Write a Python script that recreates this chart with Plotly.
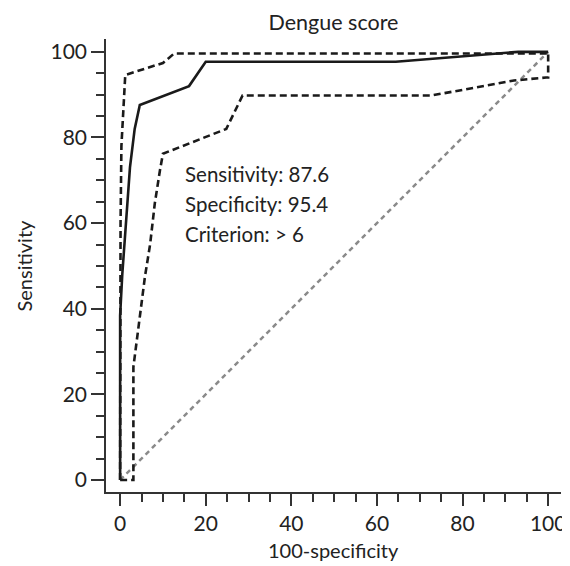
import plotly.graph_objects as go

# ROC curve (100-specificity, sensitivity)
roc_x = [0, 0, 0.5, 1.1, 2.3, 3.4, 4.6, 16.1, 20.0, 64.4, 93.0, 100]
roc_y = [0, 38.5, 48, 57, 73, 82, 87.6, 92.0, 97.7, 97.7, 100, 100]

# Upper confidence bound
upper_x = [0, 0, 0.1, 0.3, 1.2, 10.0, 12.6, 100, 100]
upper_y = [0, 40, 60, 78, 94.6, 97.4, 99.6, 99.6, 100]

# Lower confidence bound
lower_x = [0, 3.1, 3.1, 4.6, 5.8, 7.0, 8.1, 9.3, 10.0, 24.8, 28.6, 72.7, 92.0, 99.5, 100, 100]
lower_y = [0, 0, 26.4, 38.2, 47.5, 55.0, 64.6, 72.3, 76.2, 82.0, 89.8, 89.8, 93.3, 94.0, 94.0, 100]

# Reference diagonal
diag_x = [0, 100]
diag_y = [0, 100]

stats_text = ["Sensitivity: 87.6", "Specificity: 95.4", "Criterion: > 6"]
x_ticks = [0, 20, 40, 60, 80, 100]
y_ticks = [0, 20, 40, 60, 80, 100]

FONT = "Lato"
TXT = "#222"

fig = go.Figure()
fig.add_trace(go.Scatter(x=diag_x, y=diag_y, mode="lines",
                         line=dict(color="#8a8a8a", width=2.5, dash="5px,4px"),
                         hoverinfo="skip"))
fig.add_trace(go.Scatter(x=upper_x, y=upper_y, mode="lines",
                         line=dict(color="#1a1a1a", width=2.6, dash="7px,4px")))
fig.add_trace(go.Scatter(x=lower_x, y=lower_y, mode="lines",
                         line=dict(color="#1a1a1a", width=2.6, dash="7px,4px")))
fig.add_trace(go.Scatter(x=roc_x, y=roc_y, mode="lines",
                         line=dict(color="#1a1a1a", width=2.6)))

for i, t in enumerate(stats_text):
    fig.add_annotation(x=14.7, y=71.4 - 7.0 * i, xref="x", yref="y", text=t,
                       showarrow=False, xanchor="left", yanchor="middle",
                       font=dict(family=FONT, size=20.5, color=TXT))

# axis titles as annotations for exact placement
fig.add_annotation(x=0.5, y=0, xref="paper", yref="paper", text="100-specificity",
                   showarrow=False, xanchor="center", yanchor="middle", yshift=-58,
                   font=dict(family=FONT, size=20, color=TXT))
fig.add_annotation(x=0, y=0.5, xref="paper", yref="paper", text="Sensitivity",
                   showarrow=False, xanchor="center", yanchor="middle", xshift=-83,
                   textangle=-90, font=dict(family=FONT, size=20, color=TXT))

# page body has an 8px margin, so the figure is sized/offset to compensate
fig.update_layout(
    width=562, height=558,
    margin=dict(l=98, r=9, t=31, b=74),
    paper_bgcolor="white", plot_bgcolor="white",
    showlegend=False,
    title=dict(text="Dengue score", x=0.5, xanchor="center", xref="paper",
               y=1 - 14.5 / 558, yanchor="middle", yref="container",
               font=dict(family=FONT, size=21.5, color=TXT)),
    font=dict(family=FONT, size=21, color=TXT),
)
fig.update_xaxes(range=[-3.3, 103], tickvals=x_ticks, ticks="outside", ticklen=12,
                 tickwidth=1.5, tickcolor="#333", showline=True, linecolor="#333",
                 linewidth=1.5, showgrid=False, zeroline=False, automargin=False,
                 minor=dict(dtick=5, tick0=0, ticks="outside", ticklen=8, tickwidth=1.5,
                            tickcolor="#333", showgrid=False),
                 tickfont=dict(family=FONT, size=21, color=TXT))
fig.update_yaxes(range=[-2.8, 103], tickvals=y_ticks, ticks="outside", ticklen=13,
                 tickwidth=1.5, tickcolor="#333", showline=True, linecolor="#333",
                 linewidth=1.5, showgrid=False, zeroline=False, automargin=False,
                 minor=dict(dtick=5, tick0=0, ticks="outside", ticklen=8, tickwidth=1.5,
                            tickcolor="#333", showgrid=False),
                 tickfont=dict(family=FONT, size=21, color=TXT))

fig.write_html("out.html")
